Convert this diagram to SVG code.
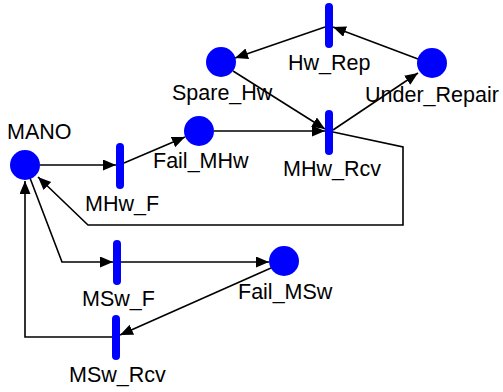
<svg xmlns="http://www.w3.org/2000/svg" width="503" height="392" viewBox="0 0 503 392">
  <defs>
    <marker id="arrow" markerUnits="userSpaceOnUse" markerWidth="14" markerHeight="12" refX="13" refY="5.5" orient="auto">
      <path d="M0,0 L13,5.5 L0,11 Z" fill="#000"/>
    </marker>
    <style>
      .place { fill: #0000ff; }
      .trans { fill: #0000ff; }
      .edge { fill: none; stroke: #000; stroke-width: 1.6; marker-end: url(#arrow); }
      .lbl { font-family: "Liberation Sans", Arial, sans-serif; font-size: 21.5px; fill: #000; }
    </style>
  </defs>
  <rect width="503" height="392" fill="#fff"/>

  <!-- arcs between places and transitions -->
  <g id="connectors">
    <path class="edge" d="M40,165 L116,165"/>
    <path class="edge" d="M124,163 L185,137"/>
    <path class="edge" d="M214,131 L325,131"/>
    <path class="edge" d="M233,71 L325,129"/>
    <path class="edge" d="M333,130 L418,73"/>
    <path class="edge" d="M418,59 L333,27"/>
    <path class="edge" d="M325,27 L235,58"/>
    <path class="edge" d="M333,132 L403,147 L403,225 L88,225 L38,177"/>
    <path class="edge" d="M30,178 L62,262 L113,262"/>
    <path class="edge" d="M121,262 L269,262"/>
    <path class="edge" d="M271,268 L120,335"/>
    <path class="edge" d="M112,337 L25,337 L25,181"/>
  </g>

  <!-- places -->
  <g id="MANO">
    <circle class="place" cx="25" cy="165" r="15"/>
    <text class="lbl" x="7" y="139">MANO</text>
  </g>
  <g id="Fail_MHw">
    <circle class="place" cx="199" cy="131" r="15"/>
    <text class="lbl" x="153" y="168">Fail_MHw</text>
  </g>
  <g id="Spare_Hw">
    <circle class="place" cx="221" cy="62" r="15"/>
    <text class="lbl" x="172" y="100">Spare_Hw</text>
  </g>
  <g id="Under_Repair">
    <circle class="place" cx="432" cy="63" r="15"/>
    <text class="lbl" x="365" y="102">Under_Repair</text>
  </g>
  <g id="Fail_MSw">
    <circle class="place" cx="284" cy="261" r="15"/>
    <text class="lbl" x="238" y="299">Fail_MSw</text>
  </g>

  <!-- transitions -->
  <g id="Hw_Rep">
    <rect class="trans" x="325" y="3" width="8" height="45" rx="4"/>
    <text class="lbl" x="288" y="70">Hw_Rep</text>
  </g>
  <g id="MHw_Rcv">
    <rect class="trans" x="325" y="110" width="8" height="45" rx="4"/>
    <text class="lbl" x="283" y="176">MHw_Rcv</text>
  </g>
  <g id="MHw_F">
    <rect class="trans" x="116" y="143" width="8" height="46" rx="4"/>
    <text class="lbl" x="85" y="211">MHw_F</text>
  </g>
  <g id="MSw_F">
    <rect class="trans" x="113" y="240" width="8" height="45" rx="4"/>
    <text class="lbl" x="82" y="306">MSw_F</text>
  </g>
  <g id="MSw_Rcv">
    <rect class="trans" x="112" y="315" width="8" height="45" rx="4"/>
    <text class="lbl" x="69" y="382">MSw_Rcv</text>
  </g>
</svg>
